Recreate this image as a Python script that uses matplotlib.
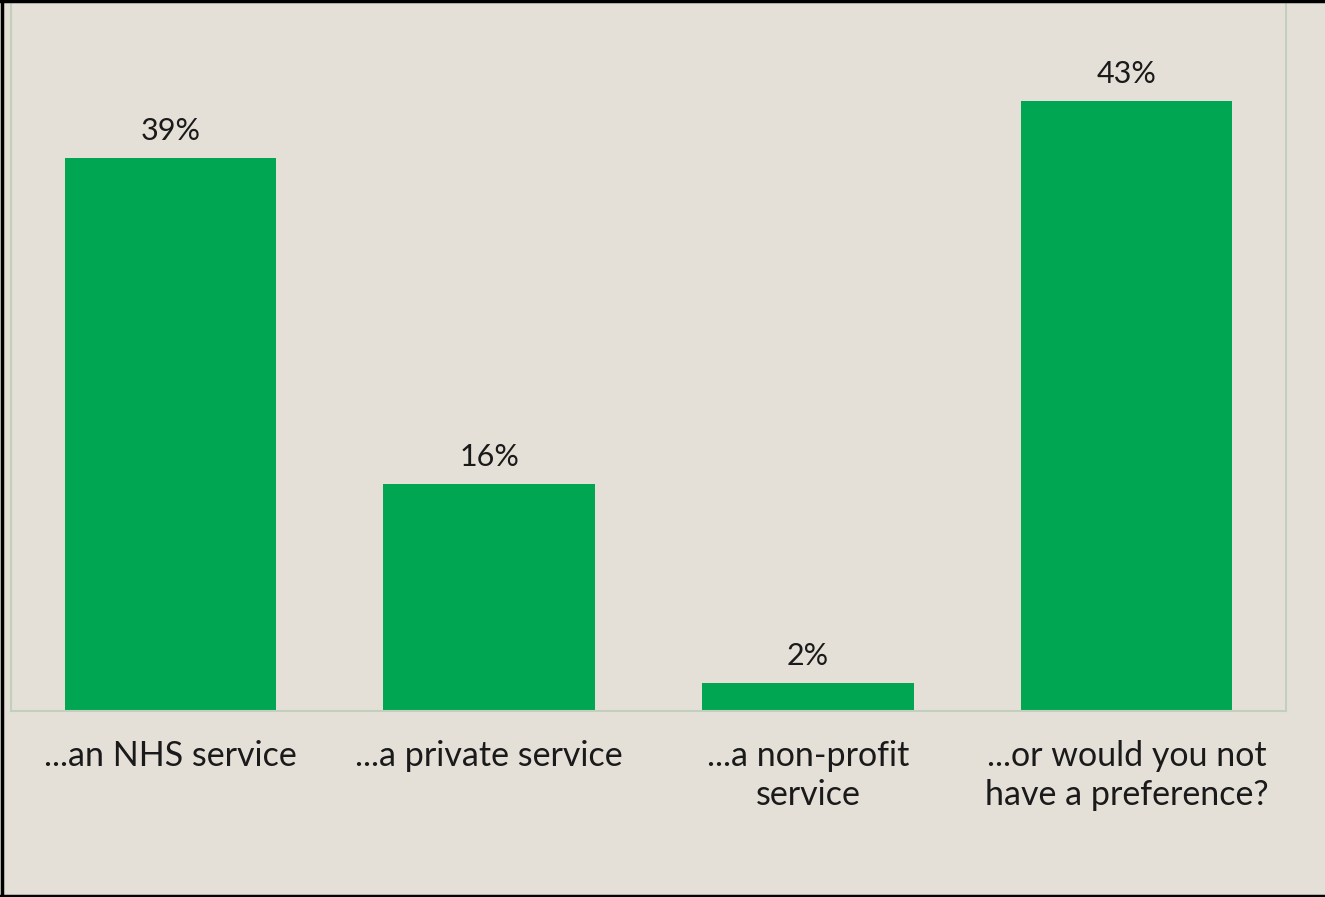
import matplotlib.pyplot as plt
from matplotlib.lines import Line2D

# Survey answers
categories = ['...an NHS service', '...a private service',
              '...a non-profit\nservice', '...or would you not\nhave a preference?']
values = [39, 16, 2, 43]
value_labels = ['39%', '16%', '2%', '43%']

BG = '#e4e0d8'
GREEN = '#00a651'
SPINE = '#c3cfbd'

plt.rcParams['font.family'] = ['Lato', 'DejaVu Sans']

fig = plt.figure(figsize=(13.25, 8.97), dpi=100, facecolor=BG)
ax = fig.add_axes([11 / 1325, 1 - 711 / 897, 1275 / 1325, 709.5 / 897])
ax.set_facecolor(BG)

x = range(len(values))
bars = ax.bar(x, values, width=0.663, color=GREEN)
for b, lab in zip(bars, value_labels):
    ax.annotate(lab, (b.get_x() + b.get_width() / 2, b.get_height()),
                xytext=(0, 9), textcoords='offset points',
                ha='center', va='bottom', fontsize=22, color='#1a1a1a')

ax.set_xlim(-0.5, 3.5)
ax.set_ylim(0, 50)
ax.set_yticks([])
ax.set_xticks(list(x))
ax.set_xticklabels(categories, fontsize=24.5, color='#1a1a1a', linespacing=1.25)
ax.tick_params(axis='x', length=0, pad=21)

ax.spines['top'].set_visible(False)
for s in ['left', 'right', 'bottom']:
    ax.spines[s].set_color(SPINE)
    ax.spines[s].set_linewidth(1.5)

# outer frame (top, left, bottom)
for xs, ys in [([0, 1], [0.999, 0.999]), ([0.0012, 0.0012], [0, 1]), ([0, 1], [0.001, 0.001])]:
    fig.add_artist(Line2D(xs, ys, transform=fig.transFigure, color='black', linewidth=2.5))

fig.savefig('out.png', dpi=100, facecolor=BG)
